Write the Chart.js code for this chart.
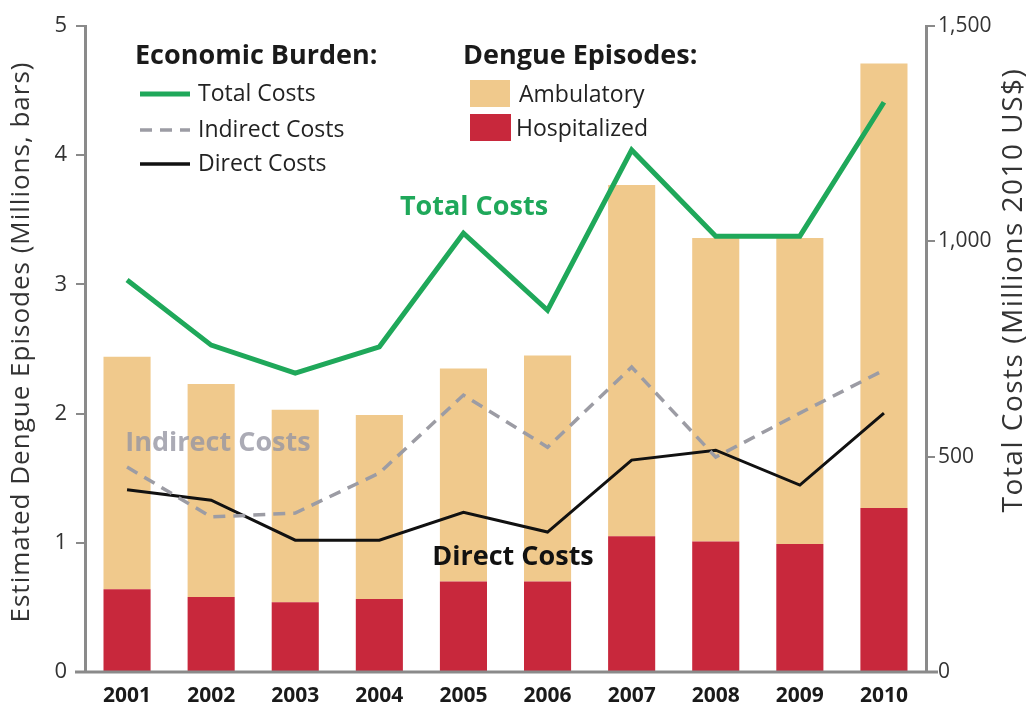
<!DOCTYPE html>
<html>
<head>
<meta charset="utf-8">
<script src="https://cdn.jsdelivr.net/npm/chart.js@4.4.1/dist/chart.umd.min.js"></script>
<style>
  html,body{margin:0;padding:0;background:#fff;}
  #wrap{width:1032px;height:708px;position:relative;}
</style>
</head>
<body>
<div id="wrap"><canvas id="c" width="1032" height="708"></canvas></div>
<script>
// ---- data ----
const years = ["2001","2002","2003","2004","2005","2006","2007","2008","2009","2010"];
// Dengue episodes, millions (stacked bars)
const hospitalized = [0.64, 0.58, 0.54, 0.565, 0.70, 0.70, 1.05, 1.01, 0.99, 1.27];
const ambulatory   = [1.80, 1.65, 1.49, 1.425, 1.65, 1.75, 2.72, 2.35, 2.37, 3.44];
// Economic burden, millions 2010 US$
const totalCosts    = [910, 759, 694, 755, 1019, 840, 1212, 1012, 1012, 1323];
const indirectCosts = [476, 360, 369, 462, 643, 522, 708, 499, 601, 701];
const directCosts   = [423, 399, 306, 306, 371, 325, 492, 515, 434, 601];
// tick labels
const leftTicks  = [0, 1, 2, 3, 4, 5];
const rightTicks = [0, 500, 1000, 1500];

const FONT = "'Open Sans', 'Noto Sans', sans-serif";
const C_AMB = '#F0C98C', C_HOSP = '#C8283C', C_TOTAL = '#1FA85A', C_IND = '#9C9CA4', C_DIR = '#111111', C_AXIS = '#8a8a8a';

const overlay = {
  id: 'overlay',
  afterDraw(chart) {
    const ctx = chart.ctx;
    const ca = chart.chartArea;
    ctx.save();
    // bottom axis line
    ctx.strokeStyle = C_AXIS; ctx.lineWidth = 3;
    ctx.beginPath(); ctx.moveTo(ca.left - 10, ca.bottom); ctx.lineTo(ca.right + 12, ca.bottom); ctx.stroke();

    // axis titles
    ctx.fillStyle = '#333';
    ctx.textAlign = 'center'; ctx.textBaseline = 'middle';
    ctx.font = `26px ${FONT}`;
    try { ctx.letterSpacing = '1px'; } catch(e) {}
    ctx.save(); ctx.translate(22, 342); ctx.rotate(-Math.PI/2);
    ctx.fillText('Estimated Dengue Episodes (Millions, bars)', 0, 0); ctx.restore();
    ctx.font = `28px ${FONT}`;
    try { ctx.letterSpacing = '1.5px'; } catch(e) {}
    ctx.save(); ctx.translate(1014, 290); ctx.rotate(-Math.PI/2);
    ctx.fillText('Total Costs (Millions 2010 US$)', 0, 0); ctx.restore();
    try { ctx.letterSpacing = '0px'; } catch(e) {}

    // legend - Economic burden
    ctx.textAlign = 'left';
    ctx.fillStyle = '#1a1a1a';
    ctx.font = `bold 27px ${FONT}`;
    ctx.fillText('Economic Burden:', 135, 56);
    ctx.fillText('Dengue Episodes:', 463, 56);
    ctx.font = `23px ${FONT}`;
    ctx.fillStyle = '#222';
    const items = [
      {t:'Total Costs', c:C_TOTAL, w:5, d:[], y:94},
      {t:'Indirect Costs', c:C_IND, w:3.5, d:[12,8], y:130},
      {t:'Direct Costs', c:C_DIR, w:3.5, d:[], y:164}
    ];
    items.forEach(it => {
      ctx.strokeStyle = it.c; ctx.lineWidth = it.w; ctx.setLineDash(it.d);
      ctx.beginPath(); ctx.moveTo(140, it.y); ctx.lineTo(190, it.y); ctx.stroke();
      ctx.setLineDash([]);
      ctx.fillText(it.t, 198, it.y);
    });
    ctx.fillStyle = C_AMB; ctx.fillRect(470, 80, 40, 27);
    ctx.fillStyle = C_HOSP; ctx.fillRect(470, 114, 41, 27);
    ctx.fillStyle = '#222';
    ctx.fillText('Ambulatory', 519, 95);
    ctx.fillText('Hospitalized', 516, 129);

    // inline labels
    ctx.textAlign = 'center';
    ctx.font = `bold 27px ${FONT}`;
    ctx.fillStyle = C_TOTAL; ctx.fillText('Total Costs', 474, 207);
    ctx.fillStyle = 'rgba(150,150,162,0.8)'; ctx.fillText('Indirect Costs', 218, 443);
    ctx.fillStyle = '#111'; ctx.fillText('Direct Costs', 513, 557);
    ctx.restore();
  }
};

const fmt = v => v.toLocaleString('en-US');

new Chart(document.getElementById('c'), {
  data: {
    labels: years,
    datasets: [
      {type:'line', label:'Total Costs', data: totalCosts, yAxisID:'y2', borderColor:C_TOTAL, borderWidth:5, pointRadius:0, tension:0, order:0},
      {type:'line', label:'Indirect Costs', data: indirectCosts, yAxisID:'y2', borderColor:C_IND, borderWidth:3.5, borderDash:[12,8], pointRadius:0, tension:0, order:0},
      {type:'line', label:'Direct Costs', data: directCosts, yAxisID:'y2', borderColor:C_DIR, borderWidth:3, pointRadius:0, tension:0, order:0},
      {type:'bar', label:'Hospitalized', data: hospitalized, yAxisID:'y', backgroundColor:C_HOSP, stack:'s', barPercentage:0.56, categoryPercentage:1, order:1},
      {type:'bar', label:'Ambulatory', data: ambulatory, yAxisID:'y', backgroundColor:C_AMB, stack:'s', barPercentage:0.56, categoryPercentage:1, order:1}
    ]
  },
  options: {
    responsive:false, animation:false,
    layout:{padding:{top:26, left:0, right:0, bottom:0}},
    plugins:{legend:{display:false}, tooltip:{enabled:false}},
    scales:{
      x:{stacked:true, grid:{display:false}, border:{display:false},
         ticks:{color:'#1a1a1a', font:{family:FONT, size:21, weight:'bold'}, padding:3},
         afterFit(s){ s.height = 36; }},
      y:{stacked:true, position:'left', min:0, max:5,
         afterBuildTicks(s){ s.ticks = leftTicks.map(v=>({value:v})); },
         ticks:{color:'#333', font:{family:FONT, size:22}, padding:9},
         grid:{drawOnChartArea:false, drawTicks:true, tickLength:9, color:C_AXIS, lineWidth:2},
         border:{color:C_AXIS, width:3},
         afterFit(s){ s.width = 85; }},
      y2:{position:'right', min:0, max:1500,
         afterBuildTicks(s){ s.ticks = rightTicks.map(v=>({value:v})); },
         ticks:{color:'#333', font:{family:FONT, size:21}, padding:3, callback:v=>fmt(v)},
         grid:{drawOnChartArea:false, drawTicks:true, tickLength:9, color:C_AXIS, lineWidth:2},
         border:{color:C_AXIS, width:3},
         afterFit(s){ s.width = 106; }}
    }
  },
  plugins:[overlay]
});
</script>
</body>
</html>
